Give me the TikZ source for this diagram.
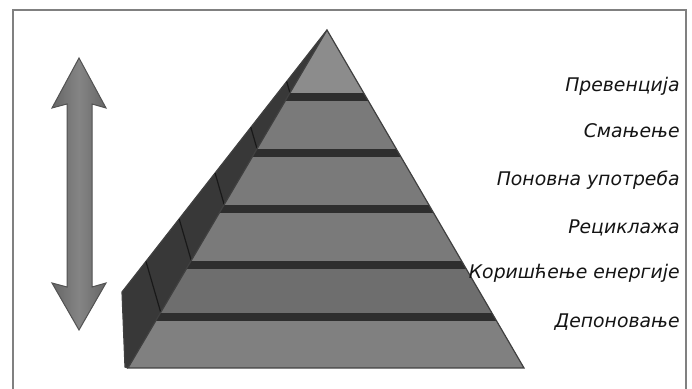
\documentclass[tikz,border=0pt]{standalone}
\usepackage{fontspec}
\setmainfont{DejaVu Sans}

\begin{document}
\begin{tikzpicture}[x=0.5pt, y=-0.5pt,
  lbl/.style={font=\fontsize{9.4}{10}\selectfont\itshape, text=black!92,
    anchor=base east, inner sep=0pt},
  frm/.style={line width=1pt, black!50},
  tier/.style={fill=black!52},
  band/.style={fill=black!82},
  side/.style={fill=black!78},
  edge/.style={line width=0.6pt, black!75},
]
\useasboundingbox (0,0) rectangle (692,389);

% Frame (runs out at the bottom)
\draw[frm] (13,395) -- (13,10) -- (686,10) -- (686,395);

% Double arrow
\draw[line width=0.5pt, black!68, left color=black!60, right color=black!60,
  middle color=black!48]
  (79,58) -- (106,108) -- (92,104) -- (92,287) -- (106,283) -- (79,330)
  -- (52,283) -- (67,287) -- (67,104) -- (52,108) -- cycle;

% Side face of the pyramid
\fill[side] (327,30) -- (122,292) -- (125,367) -- (128,368) -- cycle;
\draw[edge] (327,30) -- (122,292) -- (125,367) -- (128,368);
\foreach \xi/\yi/\xo/\yo in {290/93/286.7/81.5, 257.1/149/250.8/127.3,
    224.3/205/215.1/173.1, 191.4/261/179.2/219, 160.9/313/146/261.5}
  \draw[line width=0.6pt, black!90] (\xi,\yi) -- (\xo,\yo);

% Front face: tiers and dark bands
\begin{scope}
  \clip (327,30) -- (128,368) -- (524,368) -- cycle;
  \fill[tier] (100,20) rectangle (560,380);
  \fill[black!45] (100,20) rectangle (560,93);
  \fill[black!57] (100,268) rectangle (560,313);
  \fill[black!50] (100,321) rectangle (560,380);
  \foreach \y in {93,149,205,261,313}
    \fill[band] (100,\y) rectangle (560,\y+8);
\end{scope}
\draw[edge] (128,368) -- (327,30) -- (524,368) -- cycle;

% Labels
\node[lbl] (prev) at (680,92)  {Превенција};
\node[lbl] (smanj) at (680,138) {Смањење};
\node[lbl] (upot) at (680,186) {Поновна употреба};
\node[lbl] (recik) at (680,234) {Рециклажа};
\node[lbl] (energ) at (680,279) {Коришћење енергије};
\node[lbl] (depon) at (680,328) {Депоновање};

\end{tikzpicture}
\end{document}
